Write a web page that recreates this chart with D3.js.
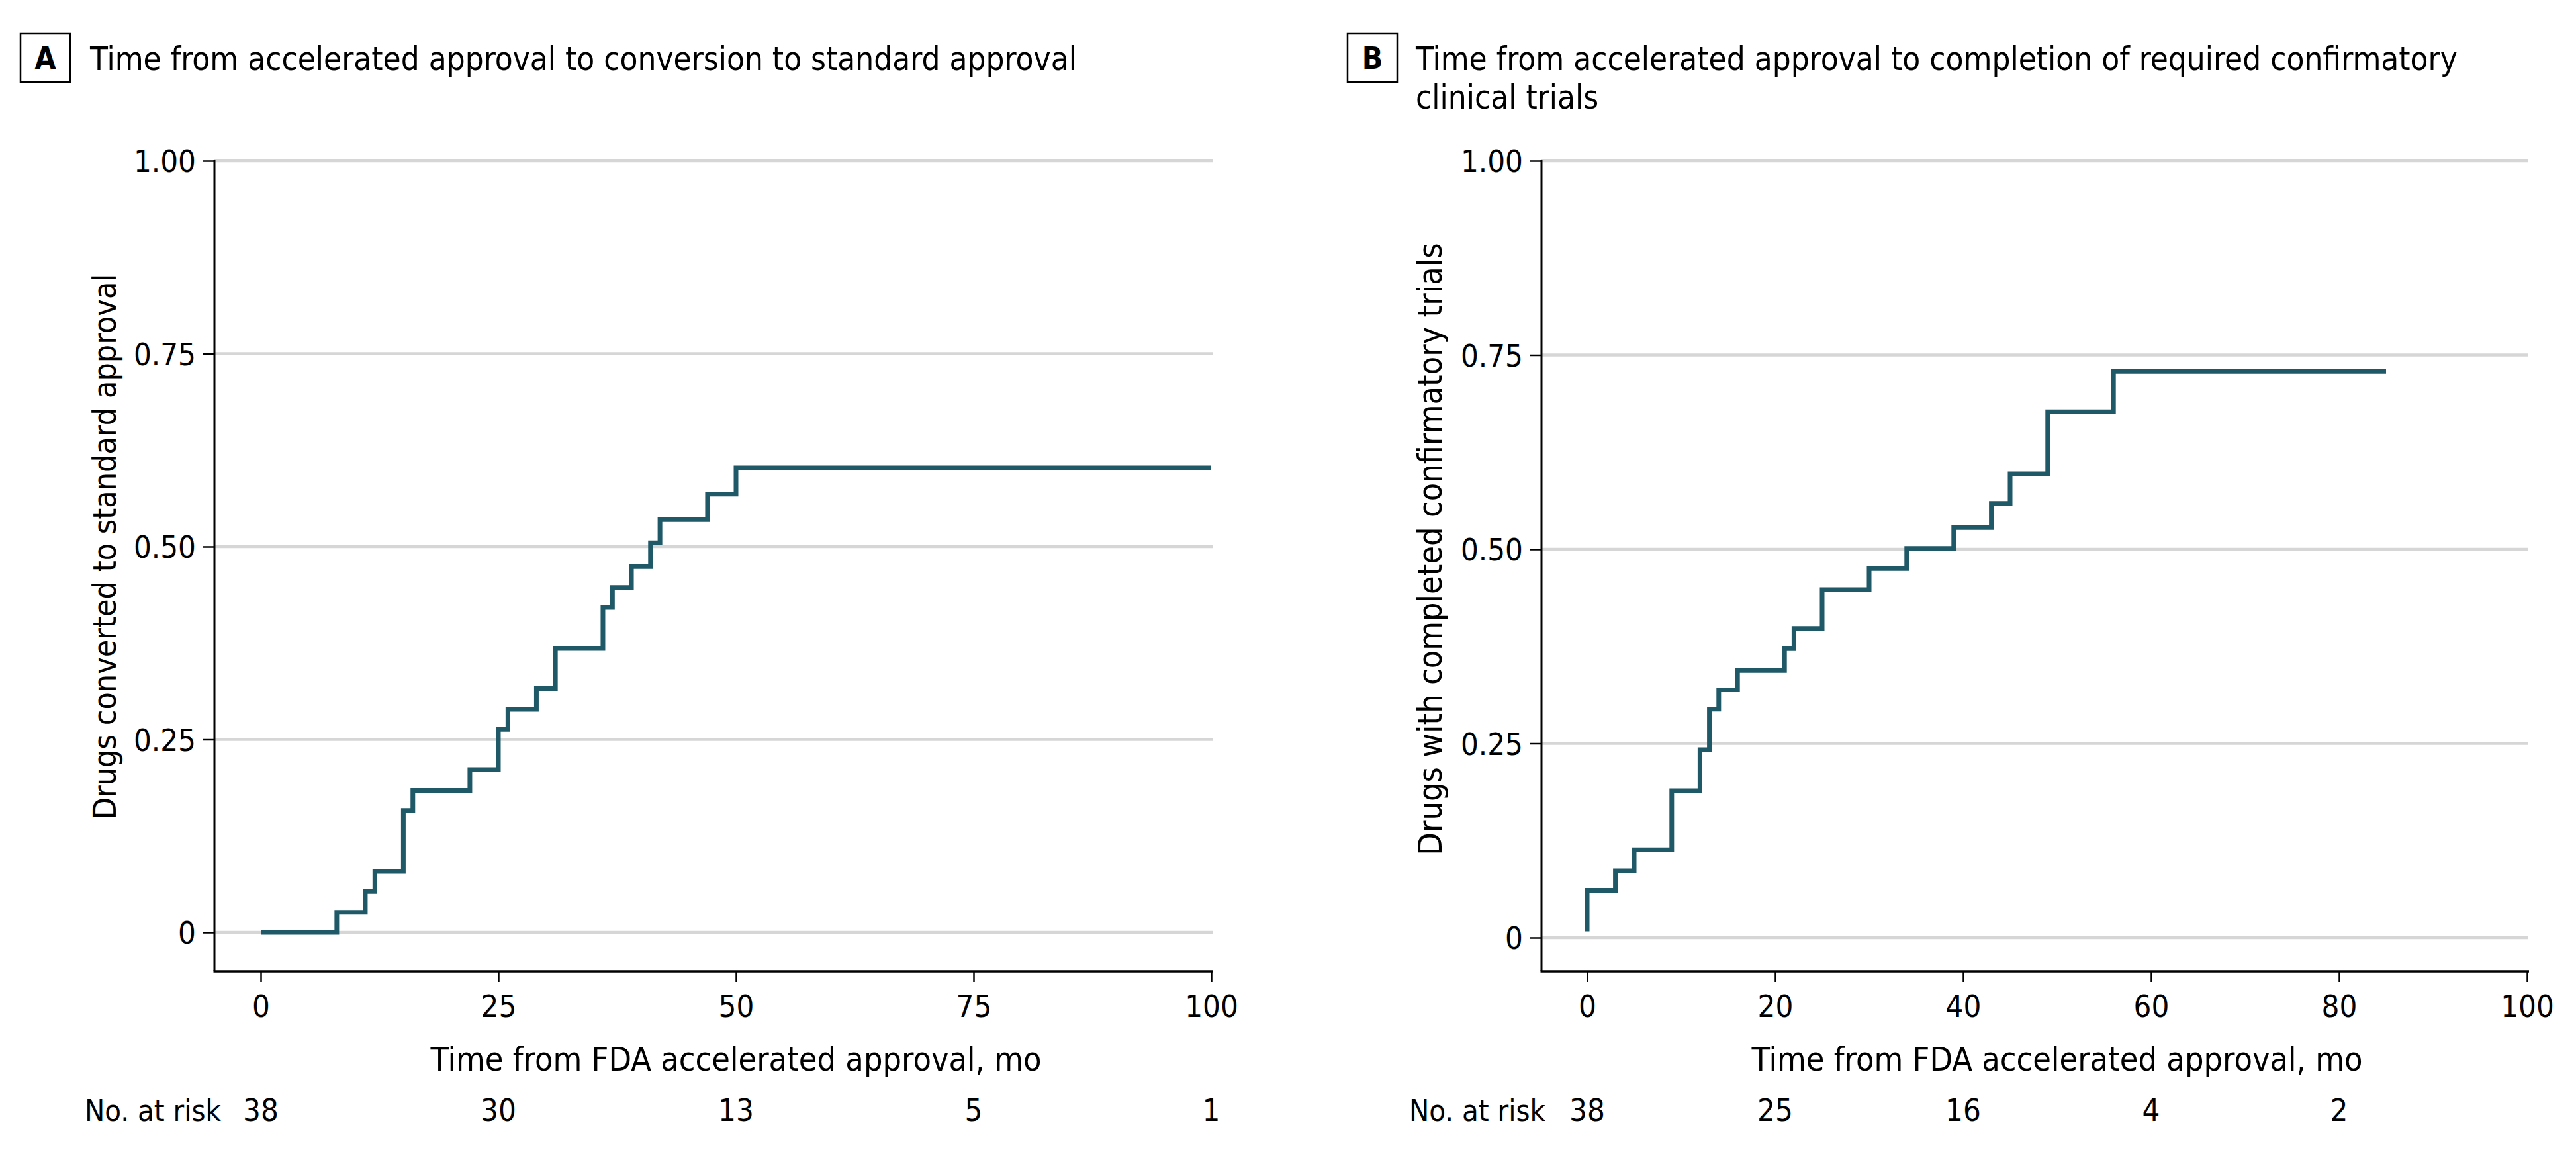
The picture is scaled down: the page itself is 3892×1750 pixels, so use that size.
<!DOCTYPE html>
<html>
<head>
<meta charset="utf-8">
<script src="https://cdn.jsdelivr.net/npm/d3@7"></script>
<style>
  html, body { margin: 0; padding: 0; background: #fff; }
  svg text { font-family: "Liberation Sans Narrow", "DejaVu Sans Condensed", "Roboto", sans-serif; fill: #000; }
</style>
</head>
<body>
<div id="chart"></div>
<script>

// panel A: time to conversion to standard approval (step curve)
var monthsA = [0, 8, 11, 12, 15, 16, 22, 25, 26, 29, 31, 36, 37, 39, 41, 42, 47, 50, 100];
var convertedA = [0, 0.026, 0.053, 0.079, 0.158, 0.184, 0.211, 0.263, 0.289, 0.316, 0.368, 0.421, 0.447, 0.474, 0.505, 0.535, 0.568, 0.602, 0.602];
var xTicksA = [0, 25, 50, 75, 100];
var atRiskA = [38, 30, 13, 5, 1];

// panel B: time to completion of confirmatory trials
var monthsB = [0, 0, 3, 5, 9, 12, 13, 14, 16, 21, 22, 25, 30, 34, 39, 43, 45, 49, 56, 85];
var completedB = [0.008, 0.061, 0.086, 0.113, 0.189, 0.242, 0.294, 0.319, 0.344, 0.372, 0.398, 0.448, 0.475, 0.501, 0.528, 0.559, 0.597, 0.677, 0.729, 0.729];
var xTicksB = [0, 20, 40, 60, 80, 100];
var atRiskTicksB = [0, 20, 40, 60, 80];
var atRiskB = [38, 25, 16, 4, 2];

var yTicks = [0, 0.25, 0.5, 0.75, 1];

var svgWidth = 3892;
var svgHeight = 1750;

var svg = d3.select('#chart')
  .append('svg')
  .attr('width', svgWidth)
  .attr('height', svgHeight);

var lineColor = '#1f5968';
var gridColor = '#d6d6d6';

// draws one km-style panel
function drawPanel(p) {
  var g = svg.append('g');

  var x = d3.scaleLinear().domain([0, 100]).range([p.x0, p.x100]);
  var y = d3.scaleLinear().domain([0, 1]).range([p.y0, p.y1]);

  // letter box + title
  g.append('rect')
    .attr('x', p.boxX).attr('y', 51)
    .attr('width', 75).attr('height', 73)
    .attr('fill', 'none').attr('stroke', '#000').attr('stroke-width', 2.5);
  g.append('text')
    .attr('x', p.boxX + 37.5).attr('y', 104)
    .attr('text-anchor', 'middle')
    .attr('font-size', 46).attr('font-weight', 'bold')
    .text(p.letter);
  p.title.forEach(function(line, i) {
    g.append('text')
      .attr('x', p.titleX).attr('y', 106 + i * 58)
      .attr('font-size', 49)
      .text(line);
  });

  // gridlines
  g.selectAll('.grid')
    .data(yTicks)
    .enter()
    .append('line')
    .attr('x1', p.axisX).attr('x2', x(100) + 2)
    .attr('y1', d => y(d)).attr('y2', d => y(d))
    .attr('stroke', gridColor).attr('stroke-width', 4.5);

  // y axis
  var yAxis = g.append('g')
    .attr('transform', `translate(${p.axisX}, 0)`)
    .call(d3.axisLeft(y).tickValues(yTicks).tickSize(17).tickPadding(11)
      .tickFormat(d => d === 0 ? '0' : d3.format('.2f')(d)));
  yAxis.select('.domain').remove();
  yAxis.selectAll('line').attr('stroke', '#000').attr('stroke-width', 2.5);
  yAxis.selectAll('text').attr('font-size', 47).attr('font-family', null).attr('dy', '0.36em');
  g.append('line')
    .attr('x1', p.axisX).attr('x2', p.axisX)
    .attr('y1', y(1) - 1).attr('y2', p.axisY)
    .attr('stroke', '#000').attr('stroke-width', 3);

  // x axis
  var xAxis = g.append('g')
    .attr('transform', `translate(0, ${p.axisY})`)
    .call(d3.axisBottom(x).tickValues(p.xTicks).tickSize(16).tickPadding(20));
  xAxis.select('.domain').remove();
  xAxis.selectAll('line').attr('stroke', '#000').attr('stroke-width', 2.5);
  xAxis.selectAll('text').attr('font-size', 47).attr('font-family', null).attr('dy', '0.71em');
  g.append('line')
    .attr('x1', p.axisX - 1.5).attr('x2', x(100) + 3)
    .attr('y1', p.axisY).attr('y2', p.axisY)
    .attr('stroke', '#000').attr('stroke-width', 3.5);

  // axis titles
  g.append('text')
    .attr('x', (p.x0 + p.x100) / 2).attr('y', 1618)
    .attr('text-anchor', 'middle')
    .attr('font-size', 50)
    .text('Time from FDA accelerated approval, mo');
  g.append('text')
    .attr('transform', `translate(${p.yLabelX}, ${(p.y0 + p.y1) / 2}) rotate(-90)`)
    .attr('text-anchor', 'middle')
    .attr('dy', '0.35em')
    .attr('font-size', p.yLabelSize)
    .text(p.yLabel);

  // step curve
  var pts = p.months.map((m, i) => [m, p.values[i]]);
  var line = d3.line()
    .x(d => x(d[0]))
    .y(d => y(d[1]))
    .curve(d3.curveStepAfter);
  g.append('path')
    .datum(pts)
    .attr('d', line)
    .attr('fill', 'none')
    .attr('stroke', lineColor)
    .attr('stroke-width', 7)
    .attr('stroke-linejoin', 'miter')
    .attr('stroke-linecap', 'butt');

  // numbers at risk
  g.append('text')
    .attr('x', p.riskLabelX).attr('y', 1694)
    .attr('text-anchor', 'end')
    .attr('font-size', 45)
    .text('No. at risk');
  g.selectAll('.risk')
    .data(p.atRisk)
    .enter()
    .append('text')
    .attr('x', (d, i) => x(p.riskTicks[i]))
    .attr('y', 1694)
    .attr('text-anchor', 'middle')
    .attr('font-size', 47)
    .text(d => d);
}

drawPanel({
  letter: 'A', boxX: 31, titleX: 136,
  title: ['Time from accelerated approval to conversion to standard approval'],
  x0: 394, x100: 1830, y0: 1409, y1: 243, axisX: 324, axisY: 1468,
  xTicks: xTicksA, months: monthsA, values: convertedA,
  riskTicks: xTicksA, atRisk: atRiskA, riskLabelX: 334,
  yLabel: 'Drugs converted to standard approval', yLabelX: 158, yLabelSize: 48
});

drawPanel({
  letter: 'B', boxX: 2036, titleX: 2139,
  title: ['Time from accelerated approval to completion of required confirmatory', 'clinical trials'],
  x0: 2398, x100: 3818, y0: 1417, y1: 243, axisX: 2329, axisY: 1468,
  xTicks: xTicksB, months: monthsB, values: completedB,
  riskTicks: atRiskTicksB, atRisk: atRiskB, riskLabelX: 2335,
  yLabel: 'Drugs with completed confirmatory trials', yLabelX: 2160, yLabelSize: 50
});

</script>
</body>
</html>
